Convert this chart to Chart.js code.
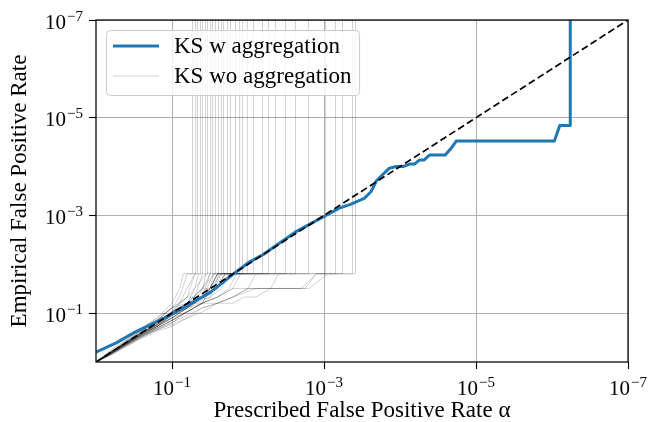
<!DOCTYPE html>
<html>
<head>
<meta charset="utf-8">
<script src="https://cdn.jsdelivr.net/npm/chart.js@4/dist/chart.umd.min.js"></script>
<style>
  html, body { margin: 0; padding: 0; background: #fff; }
  #wrap { width: 652px; height: 422px; }
</style>
</head>
<body>
<div id="wrap"><canvas id="c" width="652" height="422"></canvas></div>
<script>
// ---------- data ----------
// "KS w aggregation": prescribed alpha vs empirical FPR
const wAlpha = [1, 0.55, 0.316, 0.1, 0.0316, 0.0162, 0.0095, 0.0063, 0.0024, 0.00162, 0.001,
  6.3e-4, 4.57e-4, 2.95e-4, 2.4e-4, 2.04e-4, 1.78e-4, 1.38e-4, 1.12e-4, 9.1e-5, 7.5e-5,
  6.45e-5, 5.53e-5, 4.79e-5, 4.09e-5, 2.54e-5, 2.14e-5, 1.82e-5, 9.3e-7, 7.9e-7, 5.75e-7, 5.75e-7];
const wFpr = [0.625, 0.41, 0.25, 0.105, 0.038, 0.0166, 0.0089, 0.0063, 0.0022, 0.00158, 0.00105,
  7.1e-4, 6.0e-4, 4.47e-4, 3.24e-4, 1.95e-4, 1.58e-4, 1.08e-4, 1.0e-4, 1.0e-4, 8.9e-5,
  8.9e-5, 7.3e-5, 7.3e-5, 5.8e-5, 5.8e-5, 4.27e-5, 3.0e-5, 3.0e-5, 1.45e-5, 1.45e-5, 1e-12];

// "KS wo aggregation": individual runs, [alpha, false-positive count out of woTotal]
const woTotal = 64;
const woRuns = [
  [[1,64],[0.631,36],[0.398,22],[0.251,13],[0.158,8],[0.1,4],[0.0794,2],[0.0708,1]],
  [[1,64],[0.631,38],[0.398,23],[0.251,14],[0.158,8],[0.1,5],[0.0794,3],[0.0631,1]],
  [[1,64],[0.631,40],[0.398,24],[0.251,14],[0.158,9],[0.1,5],[0.0794,4],[0.0631,2],[0.0501,1]],
  [[1,64],[0.631,39],[0.398,25],[0.251,15],[0.158,10],[0.1,6],[0.0794,4],[0.0631,3],[0.0501,1]],
  [[1,64],[0.631,41],[0.398,24],[0.251,15],[0.158,9],[0.1,5],[0.0631,4],[0.0501,2],[0.0447,1]],
  [[1,64],[0.631,40],[0.398,26],[0.251,16],[0.158,10],[0.1,6],[0.0631,3],[0.0501,3],[0.0398,1]],
  [[1,64],[0.631,42],[0.398,25],[0.251,16],[0.158,11],[0.1,7],[0.0631,4],[0.0501,4],[0.0398,2],[0.0355,1]],
  [[1,64],[0.631,38],[0.398,26],[0.251,17],[0.158,11],[0.1,6],[0.0631,4],[0.0398,2],[0.0316,1]],
  [[1,64],[0.631,41],[0.398,27],[0.251,17],[0.158,10],[0.1,7],[0.0631,5],[0.0501,4],[0.0398,3],[0.0316,1]],
  [[1,64],[0.631,40],[0.398,25],[0.251,16],[0.158,12],[0.1,8],[0.0631,5],[0.0398,3],[0.0316,2],[0.0282,1]],
  [[1,64],[0.631,42],[0.398,27],[0.251,18],[0.158,12],[0.1,7],[0.0631,4],[0.0398,4],[0.0316,2],[0.0251,1]],
  [[1,64],[0.631,39],[0.398,26],[0.251,17],[0.158,11],[0.1,8],[0.0631,6],[0.0501,4],[0.0316,3],[0.0282,2],[0.024,1]],
  [[1,64],[0.631,41],[0.398,26],[0.251,17],[0.158,11],[0.1,7],[0.0631,4],[0.0398,3],[0.0316,2],[0.0251,1]],
  [[1,64],[0.631,40],[0.398,25],[0.251,16],[0.158,10],[0.1,6],[0.0631,4],[0.0398,2],[0.0282,1]],
  [[1,64],[0.631,42],[0.398,27],[0.251,17],[0.158,12],[0.1,8],[0.0631,5],[0.0398,3],[0.0251,2],[0.02,1]],
  [[1,64],[0.631,39],[0.398,24],[0.251,15],[0.158,9],[0.1,5],[0.0631,3],[0.0501,2],[0.0355,1]],
  [[1,64],[0.631,43],[0.398,27],[0.251,18],[0.158,12],[0.1,7],[0.0631,5],[0.0398,4],[0.0316,2],[0.0224,1]],
  [[1,64],[0.631,41],[0.398,26],[0.251,16],[0.158,11],[0.1,6],[0.0631,4],[0.0398,3],[0.0282,1]],
  [[1,64],[0.631,42],[0.398,28],[0.251,18],[0.158,13],[0.1,9],[0.0631,6],[0.0398,4],[0.0251,3],[0.0178,2],[0.0141,1]],
  [[1,64],[0.631,40],[0.398,25],[0.251,17],[0.158,11],[0.1,7],[0.0631,4],[0.0398,2],[0.0316,2],[0.0251,1]],
  [[1,64],[0.631,44],[0.398,29],[0.251,19],[0.158,13],[0.1,9],[0.0631,6],[0.0398,4],[0.0251,3],[0.0158,2],[0.0126,1]],
  [[1,64],[0.631,41],[0.398,27],[0.251,17],[0.158,12],[0.1,8],[0.0631,5],[0.0398,3],[0.0251,2],[0.02,1]],
  [[1,64],[0.631,43],[0.398,28],[0.251,19],[0.158,14],[0.1,10],[0.0631,6],[0.0398,4],[0.0251,3],[0.0158,2],[0.01,2],[0.00794,1]],
  [[1,64],[0.631,42],[0.398,26],[0.251,18],[0.158,12],[0.1,7],[0.0631,5],[0.0398,3],[0.0282,2],[0.0224,1]],
  [[1,64],[0.631,44],[0.398,29],[0.251,20],[0.158,14],[0.1,11],[0.0631,8],[0.0398,5],[0.0251,4],[0.0158,3],[0.01,2],[0.00501,2],[0.00398,1]],
  [[1,64],[0.631,40],[0.398,26],[0.251,16],[0.158,11],[0.1,6],[0.0631,4],[0.0398,3],[0.0316,2],[0.0251,1]],
  [[1,64],[0.631,45],[0.398,30],[0.251,20],[0.158,14],[0.1,10],[0.0631,7],[0.0398,5],[0.0251,4],[0.0158,3],[0.01,2],[0.00178,2],[0.00126,1]],
  [[1,64],[0.631,43],[0.398,28],[0.251,19],[0.158,13],[0.1,9],[0.0631,6],[0.0398,4],[0.0316,3],[0.0224,2],[0.0178,1]],
  [[1,64],[0.631,46],[0.398,31],[0.251,21],[0.158,15],[0.1,12],[0.0631,8],[0.0398,6],[0.0251,4],[0.0158,3],[0.00794,2],[0.002,2],[0.00126,1]],
  [[1,64],[0.631,42],[0.398,27],[0.251,18],[0.158,12],[0.1,8],[0.0631,5],[0.0398,3],[0.0282,2],[0.02,1]],
  [[1,64],[0.631,44],[0.398,29],[0.251,19],[0.158,13],[0.1,9],[0.0631,6],[0.0398,4],[0.0251,4],[0.0158,4],[0.0112,3],[0.00794,3],[0.00501,2],[0.00158,2],[0.000891,1]]
];
// alpha at which each run's empirical FPR falls to zero (vertical drop)
const woDropAlpha = [0.0537, 0.0491, 0.0462, 0.0422, 0.0397, 0.0362, 0.0341, 0.0311, 0.0293, 0.0268,
  0.0244, 0.0223, 0.0210, 0.0186, 0.0170, 0.0146, 0.0129, 0.0118, 0.0102, 0.00847,
  0.00645, 0.00537, 0.00435, 0.00321, 0.00237, 0.00160, 0.000955, 0.000706, 0.000571, 0.000422, 0.000385];
const zeroRate = 1e-12; // stand-in for zero on a log axis (off the top)

// reference diagonal
const diagAlpha = [1, 1e-7];
const diagFpr = [1, 1e-7];

// axes
const axisMin = 1e-7, axisMax = 1;
const tickValues = [1e-1, 1e-3, 1e-5, 1e-7];
const tickBase = '10';
const tickExponents = ['\u22121', '\u22123', '\u22125', '\u22127'];
const tickLabels = ['10\u207B\u00B9', '10\u207B\u00B3', '10\u207B\u2075', '10\u207B\u2077'];
const xTitle = 'Prescribed False Positive Rate \u03B1';
const yTitle = 'Empirical False Positive Rate';
const labelW = 'KS w aggregation';
const labelWo = 'KS wo aggregation';

// ---------- chart ----------
const FAM = '"Liberation Serif", "Times New Roman", serif';
const GRAY = 'rgba(0,0,0,0.18)';
const BLUE = '#1f77b4';

const datasets = [];
datasets.push({
  label: '', data: diagAlpha.map((a, i) => ({x: a, y: diagFpr[i]})),
  borderColor: '#000', borderWidth: 1.7, borderDash: [7, 3.5], showLine: true,
  pointRadius: 0, order: 0
});
datasets.push({
  label: labelW, data: wAlpha.map((a, i) => ({x: a, y: wFpr[i]})),
  borderColor: BLUE, borderWidth: 3, showLine: true, pointRadius: 0, order: 1,
  borderJoinStyle: 'round', borderCapStyle: 'butt'
});
woRuns.forEach((run, r) => {
  const pts = run.map(p => ({x: p[0], y: p[1] / woTotal}));
  pts.push({x: woDropAlpha[r], y: 1 / woTotal});
  pts.push({x: woDropAlpha[r], y: zeroRate});
  datasets.push({
    label: labelWo, data: pts, borderColor: GRAY, borderWidth: 1,
    showLine: true, pointRadius: 0, order: 2
  });
});

const decor = {
  id: 'decor',
  afterDraw(chart) {
    const {ctx, chartArea: a, scales: {x, y}} = chart;
    ctx.save();
    // frame (all four spines)
    ctx.strokeStyle = '#000';
    ctx.lineWidth = 1.25;
    ctx.strokeRect(a.left, a.top, a.right - a.left, a.bottom - a.top);

    // tick labels with superscripts
    const baseFont = '21px ' + FAM, supFont = '15px ' + FAM;
    ctx.fillStyle = '#000';
    ctx.textAlign = 'left';
    ctx.textBaseline = 'alphabetic';
    tickValues.forEach((v, i) => {
      const exp = tickExponents[i];
      ctx.font = baseFont; const bw = ctx.measureText(tickBase).width;
      ctx.font = supFont; const sw = ctx.measureText(exp).width;
      // x axis
      const px = x.getPixelForValue(v);
      const lx = px - (bw + 1 + sw) / 2;
      ctx.font = baseFont; ctx.fillText(tickBase, lx, a.bottom + 33);
      ctx.font = supFont; ctx.fillText(exp, lx + bw + 1, a.bottom + 25);
      // y axis
      const py = y.getPixelForValue(v);
      const right = a.left - 13;
      ctx.font = supFont; ctx.fillText(exp, right - sw, py + 0.5);
      ctx.font = baseFont; ctx.fillText(tickBase, right - sw - 1 - bw, py + 8.5);
    });

    // legend
    const ds = chart.data.datasets;
    const items = [ds[1], ds[2]];
    const legFont = '23px ' + FAM;
    ctx.font = legFont;
    const textX = a.left + 78;
    const maxW = Math.max(...items.map(d => ctx.measureText(d.label).width));
    const bx = a.left + 10.5, by = a.top + 10.5;
    const bw = textX + maxW + 8 - bx, bh = 65;
    ctx.beginPath();
    ctx.roundRect(bx, by, bw, bh, 4);
    ctx.fillStyle = 'rgba(255,255,255,0.8)';
    ctx.fill();
    ctx.strokeStyle = '#cccccc';
    ctx.lineWidth = 1;
    ctx.stroke();
    items.forEach((d, i) => {
      const cy = a.top + 26 + i * 30;
      ctx.beginPath();
      ctx.moveTo(a.left + 17, cy);
      ctx.lineTo(a.left + 63, cy);
      ctx.strokeStyle = d.borderColor;
      ctx.lineWidth = d.borderWidth;
      ctx.stroke();
      ctx.fillStyle = '#000';
      ctx.font = legFont;
      ctx.fillText(d.label, textX, a.top + 33 + i * 30);
    });
    ctx.restore();
  }
};

const gridOpts = {
  color: '#b0b0b0', lineWidth: 1, drawTicks: true,
  tickColor: '#000', tickLength: 7, tickWidth: 1.1
};

new Chart(document.getElementById('c'), {
  type: 'scatter',
  data: { datasets },
  options: {
    responsive: false,
    animation: false,
    events: [],
    layout: { padding: { top: 20, right: 24, left: 0, bottom: 0 } },
    plugins: { legend: { display: false }, tooltip: { enabled: false } },
    scales: {
      x: {
        type: 'logarithmic', min: axisMin, max: axisMax, reverse: true,
        afterBuildTicks: s => { s.ticks = tickValues.map(v => ({ value: v })); },
        afterFit: s => { s.height = 60; },
        grid: gridOpts,
        border: { display: false },
        ticks: { display: false, callback: (v, i) => tickLabels[i] },
        title: { display: true, text: xTitle, color: '#000',
                 font: { family: FAM, size: 23, lineHeight: 1.0 }, padding: { top: 0, bottom: 0 } }
      },
      y: {
        type: 'logarithmic', min: axisMin, max: axisMax, reverse: true,
        afterBuildTicks: s => { s.ticks = tickValues.map(v => ({ value: v })); },
        afterFit: s => { s.width = 96; },
        grid: gridOpts,
        border: { display: false },
        ticks: { display: false, callback: (v, i) => tickLabels[i] },
        title: { display: true, text: yTitle, color: '#000',
                 font: { family: FAM, size: 23 }, padding: { top: 6, bottom: 0 } }
      }
    }
  },
  plugins: [decor]
});
</script>
</body>
</html>
